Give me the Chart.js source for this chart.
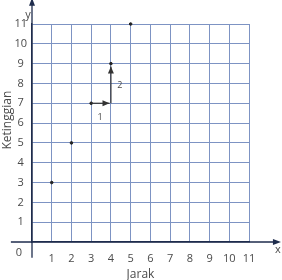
<!DOCTYPE html>
<html>
<head>
<meta charset="utf-8">
<script src="https://cdn.jsdelivr.net/npm/chart.js@4"></script>
<style>
  html, body { margin: 0; padding: 0; background: #fff; }
  #grafik { display: block; }
</style>
</head>
<body>
<canvas id="grafik" width="282" height="280"></canvas>
<script>
const titikX = [1, 2, 3, 4, 5];
const titikY = [3, 5, 7, 9, 11];

// panah langkah: dari (3,7) ke kanan 1, lalu naik 2
const panahDariX = [3, 4];
const panahDariY = [7, 7];
const panahKeX = [3.93, 4];
const panahKeY = [7, 8.85];
const labelPanah = ['1', '2'];
const labelPanahX = [3.45, 4.45];
const labelPanahY = [6.3, 7.9];

const tickNilai = [0, 1, 2, 3, 4, 5, 6, 7, 8, 9, 10, 11];

const warnaGrid = '#7d93c3';
const warnaSumbu = '#1f2d4d';
const warnaTeks = '#4a4a4a';
const hurufDasar = 'Open Sans';

const ctx = document.getElementById('grafik').getContext('2d');

const datasetPanah = panahDariX.map((x, i) => ({
  type: 'line',
  data: [{ x: x, y: panahDariY[i] }, { x: panahKeX[i], y: panahKeY[i] }],
  borderColor: '#333',
  borderWidth: 1.2,
  pointRadius: 0,
  showLine: true,
  fill: false
}));

const pluginSumbu = {
  id: 'sumbu',
  afterDatasetsDraw(chart) {
    const c = chart.ctx;
    const sx = chart.scales.x;
    const sy = chart.scales.y;
    const x0 = sx.getPixelForValue(0);
    const y0 = sy.getPixelForValue(0);
    c.save();

    // sumbu x dan y dengan panah
    c.strokeStyle = warnaSumbu;
    c.fillStyle = warnaSumbu;
    c.lineWidth = 1.3;
    const xKiri = sx.getPixelForValue(-1.07);
    const xKanan = sx.getPixelForValue(12.62);
    const yBawah = sy.getPixelForValue(-0.8);
    const yAtas = sy.getPixelForValue(12.32);
    c.beginPath();
    c.moveTo(xKiri, y0); c.lineTo(xKanan - 5, y0);
    c.moveTo(x0, yBawah); c.lineTo(x0, yAtas + 5);
    c.stroke();
    c.beginPath();
    c.moveTo(xKanan, y0); c.lineTo(xKanan - 8, y0 - 3); c.lineTo(xKanan - 8, y0 + 3); c.closePath();
    c.fill();
    c.beginPath();
    c.moveTo(x0, yAtas); c.lineTo(x0 - 3, yAtas + 8); c.lineTo(x0 + 3, yAtas + 8); c.closePath();
    c.fill();

    // kepala panah langkah
    c.fillStyle = '#333';
    panahKeX.forEach((x, i) => {
      const px = sx.getPixelForValue(x);
      const py = sy.getPixelForValue(panahKeY[i]);
      const ang = Math.atan2(py - sy.getPixelForValue(panahDariY[i]), px - sx.getPixelForValue(panahDariX[i]));
      c.save();
      c.translate(px, py);
      c.rotate(ang);
      c.beginPath();
      c.moveTo(0, 0); c.lineTo(-7, -3); c.lineTo(-7, 3); c.closePath();
      c.fill();
      c.restore();
    });

    // teks tambahan
    c.fillStyle = warnaTeks;
    c.textAlign = 'center';
    c.textBaseline = 'middle';
    c.font = '9px "' + hurufDasar + '"';
    labelPanah.forEach((t, i) => {
      c.fillText(t, sx.getPixelForValue(labelPanahX[i]), sy.getPixelForValue(labelPanahY[i]));
    });
    c.font = '11px "' + hurufDasar + '"';
    c.fillText('0', x0 - 13, y0 + 11);
    c.fillText('x', xKanan - 3, y0 + 8);
    c.fillText('y', x0 - 4, yAtas + 17);

    // judul sumbu y
    c.font = '12px "' + hurufDasar + '"';
    c.translate(8, sy.getPixelForValue(6.15));
    c.rotate(-Math.PI / 2);
    c.fillText('Ketinggian', 0, 0);
    c.restore();
  }
};

new Chart(ctx, {
  type: 'scatter',
  data: {
    datasets: [
      ...datasetPanah,
      {
        data: titikX.map((x, i) => ({ x: x, y: titikY[i] })),
        backgroundColor: '#222',
        borderColor: '#222',
        pointRadius: 1.3,
        pointHoverRadius: 1.3,
        clip: false
      }
    ]
  },
  options: {
    responsive: false,
    animation: false,
    events: [],
    layout: { padding: { top: 24, right: 33, left: 0, bottom: 0 } },
    plugins: {
      legend: { display: false },
      tooltip: { enabled: false }
    },
    scales: {
      x: {
        type: 'linear',
        min: 0,
        max: 11,
        afterFit: s => { s.height = 38; },
        afterBuildTicks: s => { s.ticks = tickNilai.map(v => ({ value: v })); },
        grid: {
          color: ctx => ctx.tick && ctx.tick.value === 0 ? 'rgba(0,0,0,0)' : warnaGrid,
          lineWidth: 1,
          drawTicks: false
        },
        border: { display: true, color: warnaSumbu, width: 1.3 },
        ticks: {
          padding: 10,
          color: warnaTeks,
          font: { family: hurufDasar, size: 11 },
          callback: v => v === 0 ? '' : v
        },
        title: {
          display: true,
          text: 'Jarak',
          color: warnaTeks,
          font: { family: hurufDasar, size: 12 },
          padding: { top: 0, bottom: -2 }
        }
      },
      y: {
        type: 'linear',
        min: 0,
        max: 11,
        afterFit: s => { s.width = 32; },
        afterBuildTicks: s => { s.ticks = tickNilai.map(v => ({ value: v })); },
        grid: {
          color: ctx => ctx.tick && ctx.tick.value === 0 ? 'rgba(0,0,0,0)' : warnaGrid,
          lineWidth: 1,
          drawTicks: false
        },
        border: { display: true, color: warnaSumbu, width: 1.3 },
        ticks: {
          padding: 5,
          crossAlign: 'center',
          color: warnaTeks,
          font: { family: hurufDasar, size: 11 },
          callback: v => v === 0 ? '' : v
        }
      }
    }
  },
  plugins: [pluginSumbu]
});
</script>
</body>
</html>
